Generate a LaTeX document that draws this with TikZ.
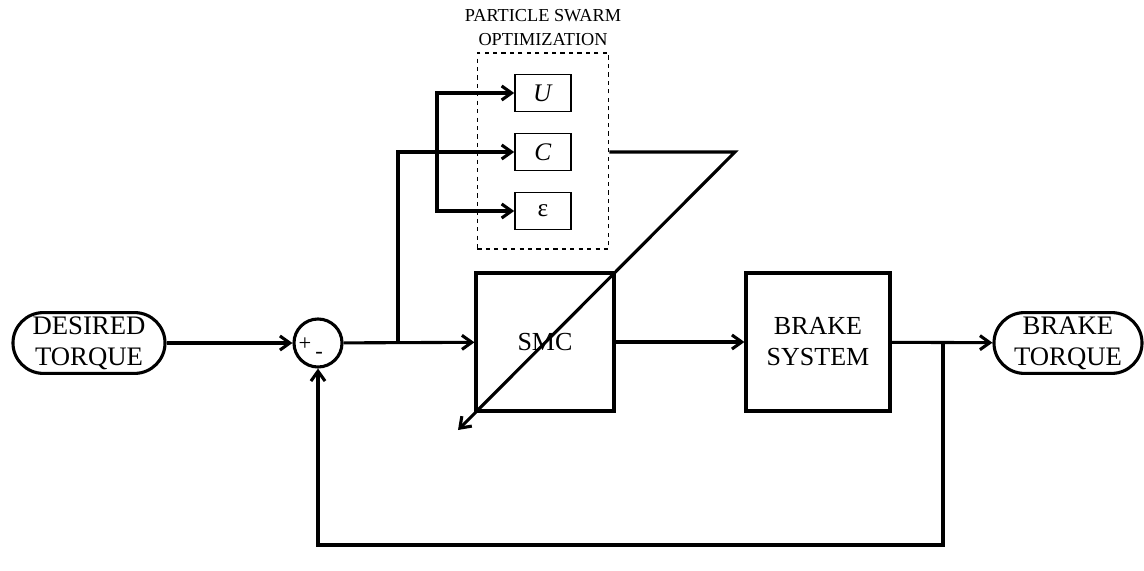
\documentclass[tikz,border=0pt]{standalone}
\usepackage{fontspec}
\setmainfont{Liberation Serif}
\usetikzlibrary{positioning}
\usetikzlibrary{arrows.meta}
\tikzset{>={Straight Barb[length=7pt,width=10pt]}}
\tikzset{
  block/.style={draw,line width=2.2pt,minimum width=3.45cm,minimum height=3.45cm,align=center,font=\fontsize{18.5}{22}\selectfont},
  term/.style={draw,line width=2.2pt,rounded corners=0.76cm,minimum width=3.8cm,minimum height=1.52cm,inner sep=0pt,align=center,font=\fontsize{19}{22}\selectfont},
  gain/.style={draw,line width=1.2pt,minimum width=1.4cm,minimum height=0.93cm,inner sep=0pt,font=\fontsize{18}{20}\selectfont},
  sum/.style={draw,circle,line width=2.2pt,minimum size=1.2cm,inner sep=0pt},
  sign/.style={inner sep=0pt,font=\fontsize{16}{16}\selectfont},
  wire/.style={line width=2.2pt}
}

\begin{document}
\begin{tikzpicture}[x=0.025cm,y=-0.025cm]
  \useasboundingbox (0,0) rectangle (1144,571);
  % main loop
  \node[term] (ref) at (89,343) {DESIRED\\TORQUE};
  \node[sum] (err) at (318,343) {};
  \node[sign] at (305,344) {+};
  \node[sign] at (319,355) {-};
  \node[block] (smc) at (545,342) {SMC};
  \node[block,minimum width=3.6cm] (plant) at (818,342) {BRAKE\\SYSTEM};
  \node[term,minimum width=3.7cm] (out) at (1068,343) {BRAKE\\TORQUE};
  % tuning block
  \node[draw,dashed,line width=0.9pt,minimum width=3.28cm,minimum height=4.9cm] (pso) at (543,151) {};
  \node[align=center,font=\fontsize{13}{17.5}\selectfont,above=1pt of pso] (psoname) {PARTICLE SWARM\\OPTIMIZATION};
  \node[gain] (U) at (543,93) {\textit{U}};
  \node[gain] (C) at (543,152) {\textit{C}};
  \node[gain] (eps) at (543,211) {ε};
  \coordinate (split) at (398,343);
  \coordinate (fork) at (437,152);
  \coordinate (tap) at (943,343);
  \coordinate (turn) at (735,152);
  \coordinate (tip) at (458,430);

  \draw[wire,->] (ref) -- (err);
  \draw[wire,->] (err) -- (smc);
  \draw[wire,->] (smc) -- (plant);
  \draw[wire,->] (plant) -- (out);
  \draw[wire,->] (split) |- (C);
  \draw[wire,->] (fork) |- (U);
  \draw[wire,->] (fork) |- (eps);
  \draw[wire,->] (tap) -- (tap |- 0,545) -| (err);
  \draw[wire,->] (pso.east |- C) -- (turn) -- (tip);
\end{tikzpicture}
\end{document}
